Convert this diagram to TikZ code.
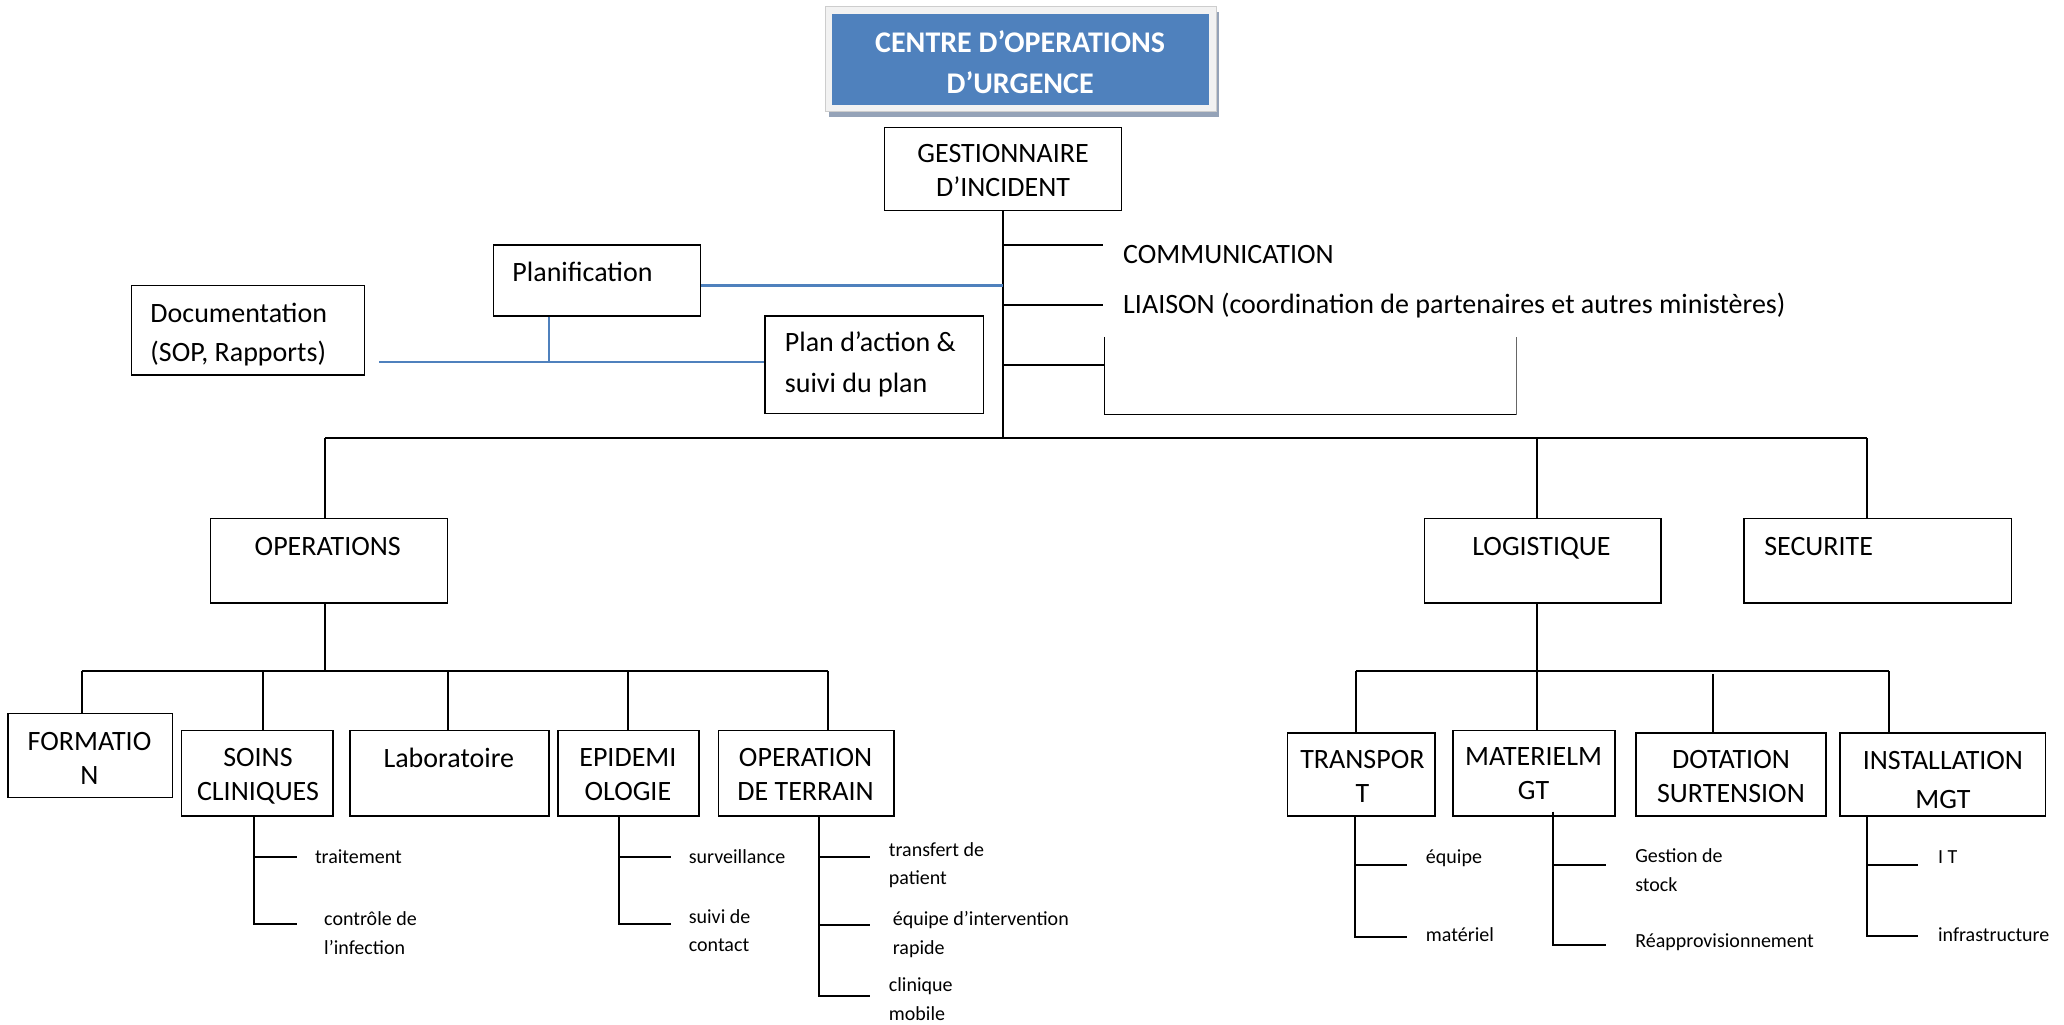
\documentclass[tikz,border=0pt]{standalone}
\usepackage{fontspec}
\setmainfont{Carlito}
\usetikzlibrary{fit}
\definecolor{coeblue}{RGB}{79,129,189}
\definecolor{coeframe}{RGB}{242,242,242}
\definecolor{coeedge}{RGB}{205,205,205}
\definecolor{coeshadow}{RGB}{149,163,184}
\tikzset{
  box/.style={draw, line width=0.75pt, inner sep=0pt},
  link/.style={line width=1pt},
  bluelink/.style={draw=coeblue, line width=1.2pt},
  txt/.style={inner sep=0pt, align=left, font=\fontsize{14}{17}\selectfont},
  boxtxt/.style={txt, align=center, anchor=base},
  leaf/.style={inner sep=0pt, align=left, anchor=base west, font=\fontsize{10}{14.2}\selectfont},
}
\begin{document}
\begin{tikzpicture}[x=0.6582pt,y=0.6582pt,yscale=-1,xscale=1]
\useasboundingbox (0,0) rectangle (1568,778);
% title
\fill[coeshadow] (630,9) rectangle (926,89);
\filldraw[fill=coeframe, draw=coeedge, line width=0.4pt] (627,5) rectangle (924,85);
\node[fill=coeblue, inner sep=0pt, fit={(632,10.5) (918.5,79.5)}] (coe) {};
\node[boxtxt, text=white, font=\bfseries\fontsize{15}{20.4}\selectfont] at (775,71) {CENTRE D’OPERATIONS\\D’URGENCE};
% top of the chart
\node[box, fit={(672,97) (852,160)}] (gest) {};
\node[boxtxt] at (762,149) {GESTIONNAIRE\\D’INCIDENT};
\coordinate (hub) at (762,333);
\draw[link] (gest.south) -- (hub);
\coordinate (gComm) at (838,186);
\coordinate (gLiai) at (838,232);
\coordinate (gEmpty) at (839,277);
\draw[link] (gComm -| gest) -- (gComm);
\draw[link] (gLiai -| gest) -- (gLiai);
\draw[link] (gEmpty -| gest) -- (gEmpty);
\node[txt, anchor=base west] (comm) at (853,200) {COMMUNICATION};
\node[txt, anchor=base west] (liai) at (853,238) {LIAISON (coordination de partenaires et autres ministères)};
% open frame under LIAISON
\coordinate (brTL) at (839,256);
\coordinate (brBL) at (839,315);
\coordinate (brBR) at (1152,315);
\coordinate (brTR) at (1152,256);
\draw[line width=0.5pt] (brTL) -- (brBL) -- (brBR);
\draw[line width=0.6pt, black!60] (brBR) -- (brTR);
% planning side
\node[box, fit={(375,186) (532,240)}] (plan) {};
\node[txt, anchor=base west] at (389,214) {Planification};
\node[box, fit={(100,217) (277,285)}] (doc) {};
\node[txt, anchor=base west, font=\fontsize{14}{19.75}\selectfont] at (114,275) {Documentation\\(SOP, Rapports)};
\node[box, fit={(581,240) (747,314)}] (act) {};
\node[txt, anchor=base west, font=\fontsize{14}{20.4}\selectfont] at (596,298) {Plan d’action \&\\suivi du plan};
\coordinate (gPlan) at (762,217);
\draw[bluelink] (gPlan -| plan.east) -- (gPlan);
\coordinate (docJ) at (288,275);
\coordinate (planV) at (417,275);
\draw[bluelink] (docJ) -- (docJ -| act.west);
\draw[bluelink] (planV |- plan.south) -- (planV);
% second level
\node[box, fit={(160,394) (340,458)}] (ops) {};
\node[boxtxt] at (249,422) {OPERATIONS};
\node[box, fit={(1082,394) (1262,458)}] (log) {};
\node[boxtxt] at (1171,422) {LOGISTIQUE};
\node[box, fit={(1325,394) (1528,458)}] (sec) {};
\node[txt, anchor=base west] at (1340,422) {SECURITE};
\coordinate (opsT) at (247,333);
\coordinate (logT) at (1168,333);
\coordinate (secT) at (1418,333);
\draw[link] (opsT) -- (secT);
\draw[link] (opsT) -- (opsT |- ops.north);
\draw[link] (logT) -- (logT |- log.north);
\draw[link] (secT) -- (secT |- sec.north);
% operations
\node[box, fit={(6,542) (131,606)}] (form) {};
\node[boxtxt] at (68,596) {FORMATIO\\N};
\node[box, fit={(138,555) (253,620)}] (soins) {};
\node[boxtxt] at (196,608) {SOINS\\CLINIQUES};
\node[box, fit={(266,555) (417,620)}] (lab) {};
\node[boxtxt] at (341,583) {Laboratoire};
\node[box, fit={(424,555) (531,620)}] (epi) {};
\node[boxtxt] at (477,608) {EPIDEMI\\OLOGIE};
\node[box, fit={(546,555) (679,620)}] (terr) {};
\node[boxtxt] at (612,608) {OPERATION\\DE TERRAIN};
\coordinate (opsB) at (247,510);
\coordinate (formT) at (62,510);
\coordinate (soinsT) at (200,510);
\coordinate (labT) at (340,510);
\coordinate (epiT) at (477,510);
\coordinate (terrT) at (629,510);
\draw[link] (opsB |- ops.south) -- (opsB);
\draw[link] (formT) -- (terrT);
\draw[link] (formT) -- (formT |- form.north);
\draw[link] (soinsT) -- (soinsT |- soins.north);
\draw[link] (labT) -- (labT |- lab.north);
\draw[link] (epiT) -- (epiT |- epi.north);
\draw[link] (terrT) -- (terrT |- terr.north);
% clinical care
\coordinate (soinsV) at (193,702);
\coordinate (soinsA) at (226,651);
\coordinate (soinsB) at (226,702);
\draw[link] (soinsV |- soins.south) -- (soinsV) -- (soinsB);
\draw[link] (soinsV |- soinsA) -- (soinsA);
\node[leaf] at (239,656) {traitement};
\node[leaf] at (246,725) {contrôle de\\l’infection};
% epidemiology
\coordinate (epiV) at (470,702);
\coordinate (epiA) at (510,651);
\coordinate (epiB) at (510,702);
\draw[link] (epiV |- epi.south) -- (epiV) -- (epiB);
\draw[link] (epiV |- epiA) -- (epiA);
\node[leaf] at (523,656) {surveillance};
\node[leaf] at (523,723) {suivi de\\contact};
% field operations
\coordinate (terrV) at (622,757);
\coordinate (terrA) at (661,651);
\coordinate (terrB) at (661,703);
\coordinate (terrC) at (661,757);
\draw[link] (terrV |- terr.south) -- (terrV) -- (terrC);
\draw[link] (terrV |- terrA) -- (terrA);
\draw[link] (terrV |- terrB) -- (terrB);
\node[leaf] at (675,672) {transfert de\\patient};
\node[leaf] at (678,725) {équipe d’intervention\\rapide};
\node[leaf] at (675,775) {clinique\\mobile};
% logistics
\node[box, fit={(978,557) (1090,620)}] (trans) {};
\node[boxtxt] at (1035,610) {TRANSPOR\\T};
\node[box, fit={(1104,555) (1227,620)}] (mat) {};
\node[boxtxt] at (1165,607) {MATERIELM\\GT};
\node[box, fit={(1243,557) (1387,620)}] (dot) {};
\node[boxtxt] at (1315,610) {DOTATION\\SURTENSION};
\node[box, fit={(1398,557) (1554,620)}] (inst) {};
\node[boxtxt, font=\fontsize{14}{19.5}\selectfont] at (1476,614) {INSTALLATION\\MGT};
\coordinate (logB) at (1168,510);
\coordinate (transT) at (1030,510);
\coordinate (dotT) at (1301,512);
\coordinate (instT) at (1435,510);
\draw[link] (logB |- log.south) -- (logB |- mat.north);
\draw[link] (transT) -- (instT);
\draw[link] (transT) -- (transT |- trans.north);
\draw[link] (dotT) -- (dotT |- dot.north);
\draw[link] (instT) -- (instT |- inst.north);
% transport
\coordinate (transV) at (1029,712);
\coordinate (transA) at (1069,657);
\coordinate (transB) at (1069,712);
\draw[link] (transV |- trans.south) -- (transV) -- (transB);
\draw[link] (transV |- transA) -- (transA);
\node[leaf] at (1083,656) {équipe};
\node[leaf] at (1083,715) {matériel};
% equipment
\coordinate (matV) at (1180,718);
\coordinate (matA) at (1220,657);
\coordinate (matB) at (1220,718);
\draw[link] ([yshift=-2.6pt]matV |- mat.south) -- (matV) -- (matB);
\draw[link] (matV |- matA) -- (matA);
\node[leaf] at (1242,677) {Gestion de\\stock};
\node[leaf] at (1242,720) {Réapprovisionnement};
% installations
\coordinate (instV) at (1418,711);
\coordinate (instA) at (1457,657);
\coordinate (instB) at (1457,711);
\draw[link] (instV |- inst.south) -- (instV) -- (instB);
\draw[link] (instV |- instA) -- (instA);
\node[leaf] at (1472,656) {I T};
\node[leaf] at (1472,715) {infrastructure};
\end{tikzpicture}
\end{document}
